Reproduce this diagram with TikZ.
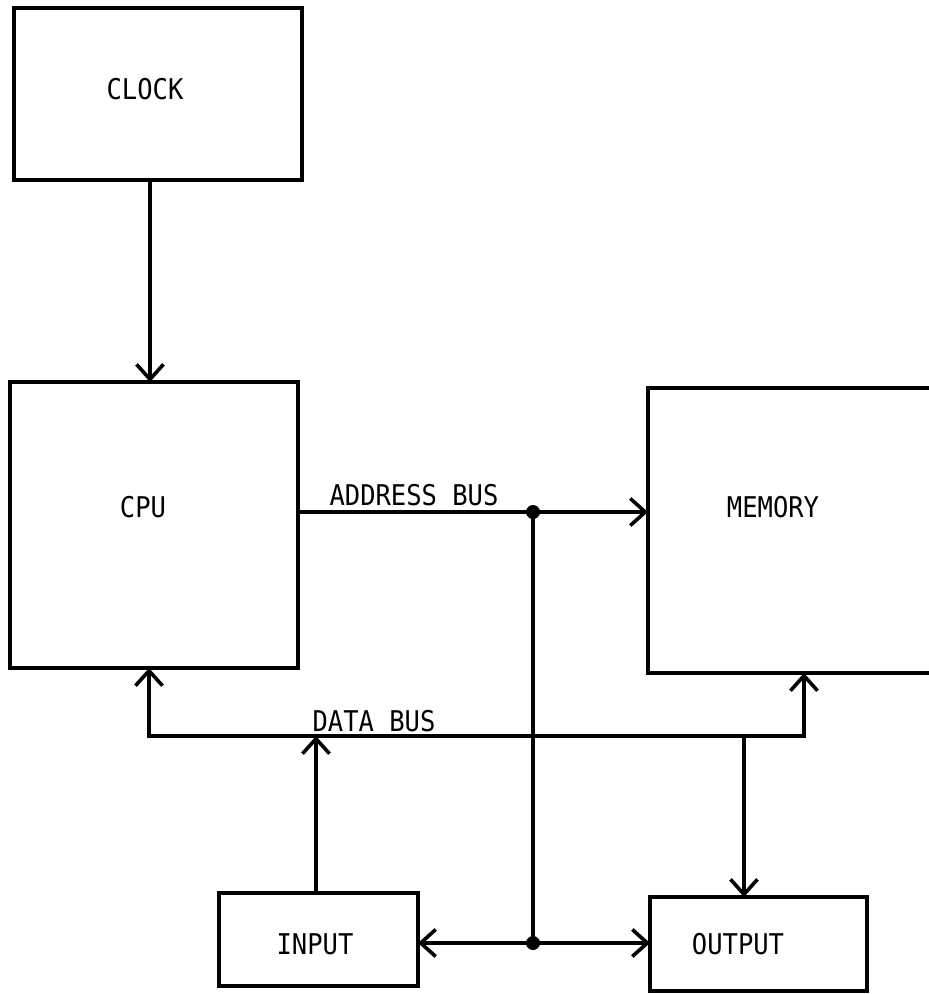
\documentclass[tikz,border=0pt]{standalone}
\usepackage{fontspec}
\setmonofont{DejaVu Sans Mono}
\usetikzlibrary{arrows.meta}
\newcommand{\mytxt}[1]{\scalebox{1}[1.12]{\ttfamily\fontsize{25.5pt}{28pt}\selectfont #1}}
\begin{document}
\begin{tikzpicture}[x=1pt,y=-1pt,
  line width=3.8pt, line join=miter,
  blk/.style={draw,rectangle,inner sep=0pt,outer sep=0pt},
  lbl/.style={inner sep=0pt},
  tip/.tip={Straight Barb[length=15pt,width=27pt,line width=3.6pt]},
  arr/.style={-tip},
  darr/.style={tip-tip},
  dot/.style={fill,circle,inner sep=0pt,minimum size=14pt}]
\clip (0,0) rectangle (929,994);
\fill[white] (0,0) rectangle (929,994);
% boxes
\node[blk,minimum width=288pt,minimum height=172pt] (clock) at (158,94) {};
\node[blk,minimum width=288pt,minimum height=286pt] (cpu) at (154,525) {};
\node[blk,minimum width=332pt,minimum height=285pt] (mem) at (814,530.5) {};
\node[blk,minimum width=199pt,minimum height=93pt] (inp) at (318.5,939.5) {};
\node[blk,minimum width=217pt,minimum height=94pt] (out) at (758.5,944) {};
% texts
\node[lbl] (tclock) at (145,89) {\mytxt{CLOCK}};
\node[lbl] (tcpu) at (143,507) {\mytxt{CPU}};
\node[lbl] (tmem) at (773,507) {\mytxt{MEMORY}};
\node[lbl] (tinp) at (315,944) {\mytxt{INPUT}};
\node[lbl] (tout) at (738,944) {\mytxt{OUTPUT}};
\node[lbl] (tab) at (414,495) {\mytxt{ADDRESS BUS}};
\node[lbl] (tdb) at (374,721) {\mytxt{DATA BUS}};
% coordinates
\coordinate (ck) at (150,0);
\coordinate (j1) at (533,512);
\coordinate (j2) at (533,943);
\coordinate (dl) at (149,736);
\coordinate (dr) at (804,736);
\coordinate (di) at (316,736);
\coordinate (do) at (744,736);
% clock to cpu
\draw[arr] (ck |- clock.south) -- (ck |- cpu.north);
% address bus
\draw[arr] (cpu.east |- j1) -- (mem.west |- j1);
\draw (j1) -- (j2);
\draw[darr] (inp.east |- j2) -- (out.west |- j2);
\node[dot] (dot1) at (j1) {};
\node[dot] (dot2) at (j2) {};
% data bus
\draw[darr] (dl |- cpu.south) -- (dl) -- (dr) -- (dr |- mem.south);
\draw[arr] (di |- inp.north) -- (di);
\draw[arr] (do) -- (do |- out.north);
\end{tikzpicture}
\end{document}
